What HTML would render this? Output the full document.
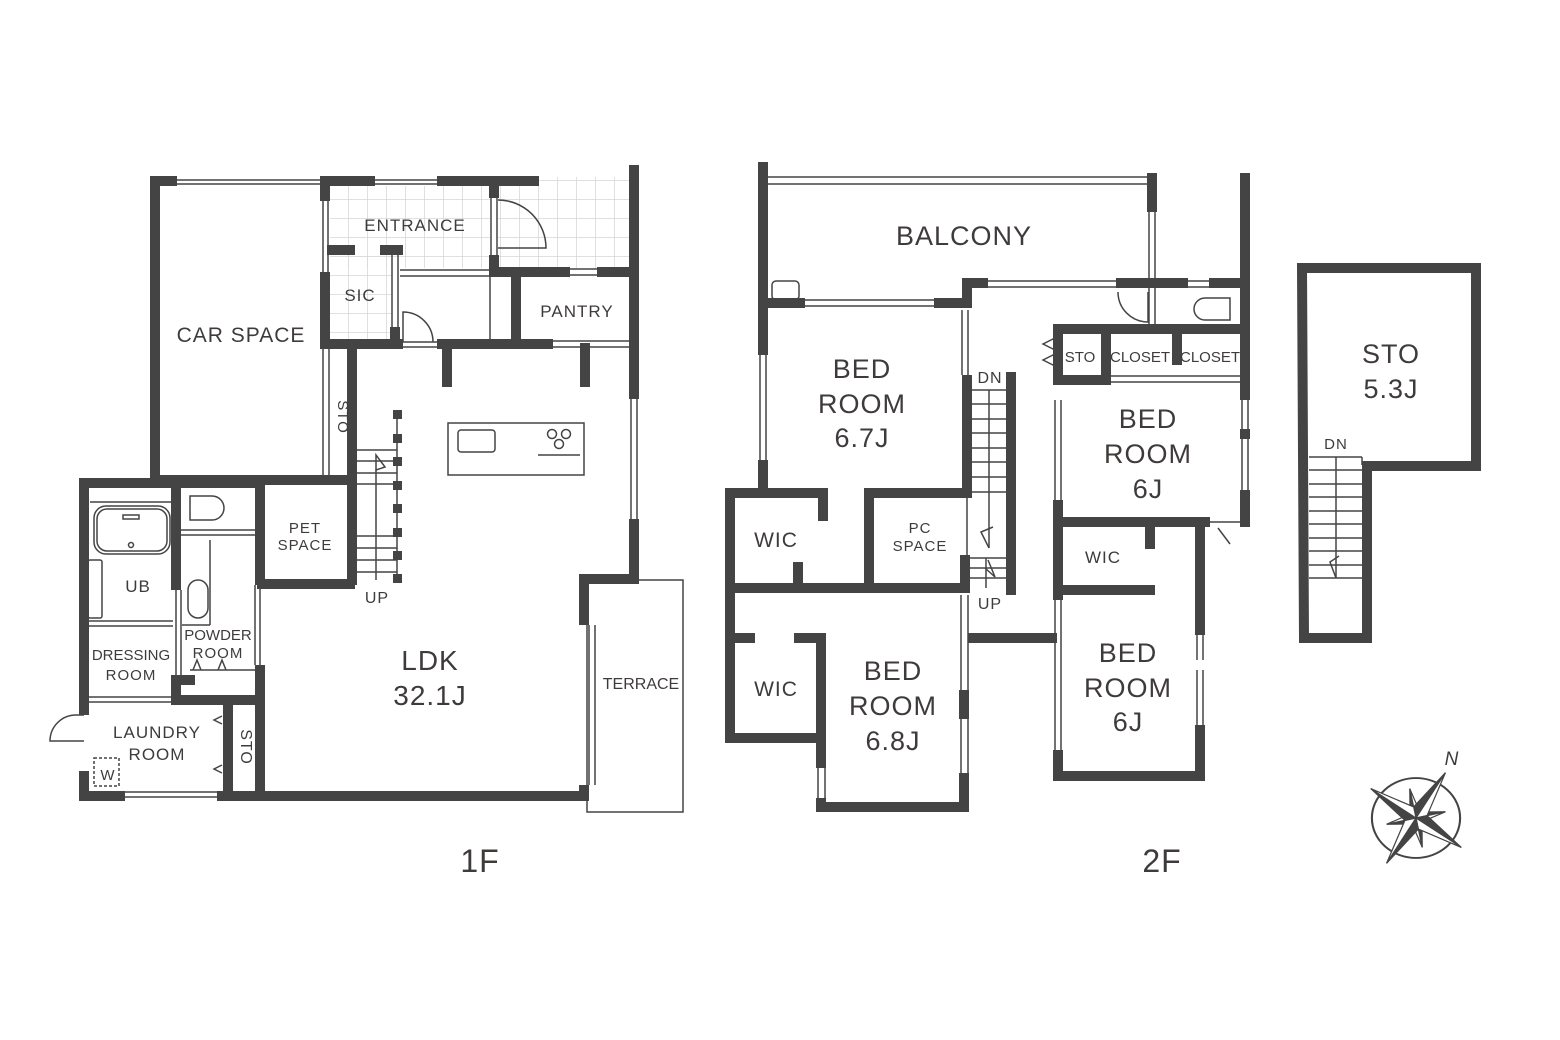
<!DOCTYPE html>
<html><head><meta charset="utf-8"><style>
html,body{margin:0;padding:0;background:#fff;}
svg{display:block;}
text{font-family:"Liberation Sans","DejaVu Sans",sans-serif;fill:#3f3b3b;text-anchor:middle;letter-spacing:1px;}
</style></head><body>
<svg width="1560" height="1040" viewBox="0 0 1560 1040" xmlns="http://www.w3.org/2000/svg">
<defs>
<pattern id="tile" width="19" height="19" patternUnits="userSpaceOnUse" x="330" y="181"><path d="M19 0V19H0" fill="none" stroke="#d6d6d6" stroke-width="1.5"/></pattern>
<g id="pt"><path d="M0 0 L0 -54 L-8 -8 Z" fill="#444"/><path d="M0 0 L0 -54 L8 -8 Z" fill="#fff"/></g>
<g id="pm"><path d="M0 0 L0 -30 L-5 -5 Z" fill="#444"/><path d="M0 0 L0 -30 L5 -5 Z" fill="#fff"/></g>
</defs>
<rect width="1560" height="1040" fill="#fff"/>
<rect x="330" y="186" width="160" height="82" fill="url(#tile)"/>
<rect x="330" y="255" width="62" height="85" fill="url(#tile)"/>
<rect x="498" y="177" width="132" height="91" fill="url(#tile)"/>

<g fill="none" stroke="#444" stroke-width="1.5">
<line x1="175" y1="180" x2="320" y2="180"/><line x1="175" y1="184" x2="320" y2="184"/>
<line x1="375" y1="180" x2="438" y2="180"/><line x1="375" y1="184" x2="438" y2="184"/>
<line x1="323" y1="200" x2="323" y2="277"/><line x1="328" y1="200" x2="328" y2="277"/>
<line x1="323" y1="348" x2="323" y2="478"/><line x1="329" y1="348" x2="329" y2="478"/>
<line x1="392" y1="255" x2="392" y2="330"/><line x1="398" y1="255" x2="398" y2="330"/>
<line x1="491" y1="198" x2="491" y2="255"/><line x1="497" y1="198" x2="497" y2="255"/>
<line x1="400" y1="270" x2="490" y2="270"/><line x1="400" y1="276" x2="490" y2="276"/>
<line x1="490" y1="276" x2="490" y2="340"/>
<line x1="570" y1="269" x2="597" y2="269"/><line x1="570" y1="275" x2="597" y2="275"/>
<line x1="550" y1="341" x2="630" y2="341"/><line x1="550" y1="347" x2="630" y2="347"/>
<line x1="400" y1="342" x2="438" y2="342"/><line x1="400" y1="347" x2="438" y2="347"/>
<path d="M498 200 A48 48 0 0 1 546 248 L498 248"/>
<path d="M403 342 V312 A30 30 0 0 1 433 342"/>
<line x1="631" y1="398" x2="631" y2="520"/><line x1="637" y1="398" x2="637" y2="520"/>
<line x1="589" y1="625" x2="589" y2="785"/><line x1="595" y1="625" x2="595" y2="785"/>
<rect x="587" y="580" width="96" height="232"/>
<rect x="448" y="423" width="136" height="52"/>
<rect x="458" y="430" width="37" height="22" rx="3"/>
<line x1="538" y1="455" x2="580" y2="455"/>
<circle cx="552" cy="434" r="4.5"/><circle cx="566" cy="434" r="4.5"/><circle cx="559" cy="444" r="4.5"/>
<line x1="357" y1="450" x2="397" y2="450"/><line x1="357" y1="461" x2="397" y2="461"/><line x1="357" y1="473" x2="397" y2="473"/><line x1="357" y1="484" x2="397" y2="484"/>
<line x1="357" y1="536" x2="397" y2="536"/><line x1="357" y1="548" x2="397" y2="548"/><line x1="357" y1="560" x2="397" y2="560"/><line x1="357" y1="572" x2="397" y2="572"/>
<line x1="397" y1="412" x2="397" y2="580"/><line x1="376" y1="470" x2="376" y2="580"/>
<path d="M376 470 L376 455 L385 467 Z"/>
<rect x="94" y="506" width="76" height="48" rx="12"/><rect x="97" y="509" width="70" height="42" rx="10"/>
<rect x="123" y="515" width="16" height="4"/><circle cx="131" cy="545" r="2.5"/>
<rect x="88" y="560" width="14" height="58" rx="2"/>
<line x1="90" y1="502" x2="173" y2="502"/>
<line x1="88" y1="621" x2="173" y2="621"/><line x1="88" y1="626" x2="173" y2="626"/>
<line x1="88" y1="697" x2="173" y2="697"/><line x1="88" y1="702" x2="173" y2="702"/>
<line x1="176" y1="590" x2="176" y2="675"/><line x1="181" y1="590" x2="181" y2="675"/>
<path d="M190 496 h22 a12 12 0 0 1 0 24 h-22 z"/>
<line x1="180" y1="530" x2="256" y2="530"/><line x1="180" y1="535" x2="256" y2="535"/>
<rect x="188" y="580" width="20" height="38" rx="10"/>
<line x1="210" y1="540" x2="210" y2="625"/><line x1="182" y1="625" x2="210" y2="625"/>
<line x1="255" y1="585" x2="255" y2="665"/><line x1="260" y1="585" x2="260" y2="665"/>
<line x1="190" y1="670" x2="255" y2="670"/>
<path d="M193 670 l4 -10 l4 10 M218 670 l4 -10 l4 10"/>
<line x1="226" y1="706" x2="226" y2="790"/>
<path d="M222 716 l-8 4 l8 4 M222 765 l-8 4 l8 4"/>
<rect x="94" y="758" width="25" height="28" stroke-dasharray="3 2"/>
<line x1="125" y1="792" x2="220" y2="792"/><line x1="125" y1="797" x2="220" y2="797"/>
<path d="M84 715 h-8 a26 26 0 0 0 -26 26 h34"/>
<line x1="767" y1="177" x2="1148" y2="177"/><line x1="767" y1="184" x2="1148" y2="184"/>
<line x1="1149" y1="210" x2="1149" y2="325"/><line x1="1155" y1="210" x2="1155" y2="325"/>
<line x1="805" y1="300" x2="935" y2="300"/><line x1="805" y1="306" x2="935" y2="306"/>
<line x1="985" y1="281" x2="1117" y2="281"/><line x1="985" y1="287" x2="1117" y2="287"/>
<line x1="1187" y1="281" x2="1210" y2="281"/><line x1="1187" y1="287" x2="1210" y2="287"/>
<rect x="772" y="281" width="27" height="19" rx="4"/>
<line x1="760" y1="355" x2="760" y2="460"/><line x1="766" y1="355" x2="766" y2="460"/>
<line x1="962" y1="310" x2="962" y2="375"/><line x1="968" y1="310" x2="968" y2="375"/>
<path d="M1118 292 A30 30 0 0 0 1148 322 V292"/>
<path d="M1205 298 h25 v22 h-25 a11 11 0 0 1 0 -22 z"/>
<line x1="1060" y1="333" x2="1060" y2="376"/>
<path d="M1055 338 l-12 6 l12 6 M1055 354 l-12 6 l12 6"/>
<line x1="1110" y1="376" x2="1240" y2="376"/><line x1="1110" y1="382" x2="1240" y2="382"/>
<line x1="1055" y1="400" x2="1055" y2="500"/><line x1="1061" y1="400" x2="1061" y2="500"/>
<line x1="1242" y1="400" x2="1242" y2="430"/><line x1="1248" y1="400" x2="1248" y2="430"/>
<line x1="1242" y1="438" x2="1242" y2="490"/><line x1="1248" y1="438" x2="1248" y2="490"/>
<path d="M1210 522 h35 M1218 528 l12 16"/>
<line x1="1055" y1="600" x2="1055" y2="755"/><line x1="1061" y1="600" x2="1061" y2="755"/>
<line x1="1197" y1="635" x2="1197" y2="660"/><line x1="1203" y1="635" x2="1203" y2="660"/>
<line x1="1197" y1="670" x2="1197" y2="725"/><line x1="1203" y1="670" x2="1203" y2="725"/>
<line x1="961" y1="595" x2="961" y2="690"/><line x1="968" y1="595" x2="968" y2="690"/>
<line x1="961" y1="718" x2="961" y2="775"/><line x1="968" y1="718" x2="968" y2="775"/>
<line x1="818" y1="767" x2="818" y2="800"/><line x1="825" y1="767" x2="825" y2="800"/>
<line x1="967" y1="495" x2="967" y2="558"/>
<line x1="970" y1="390" x2="1006" y2="390"/><line x1="970" y1="404" x2="1006" y2="404"/><line x1="970" y1="419" x2="1006" y2="419"/><line x1="970" y1="433" x2="1006" y2="433"/><line x1="970" y1="448" x2="1006" y2="448"/><line x1="970" y1="462" x2="1006" y2="462"/><line x1="970" y1="477" x2="1006" y2="477"/><line x1="970" y1="492" x2="1006" y2="492"/>
<line x1="970" y1="558" x2="1006" y2="558"/><line x1="970" y1="568" x2="1006" y2="568"/><line x1="970" y1="578" x2="1006" y2="578"/>
<line x1="989" y1="390" x2="989" y2="548"/><line x1="986" y1="558" x2="986" y2="588"/>
<path d="M989 548 L981 532 L993 527"/><path d="M985 568 L995 577 L988 560"/>
<line x1="1309" y1="457" x2="1362" y2="457"/><line x1="1362" y1="457" x2="1362" y2="465"/>
<line x1="1309" y1="470" x2="1362" y2="470"/><line x1="1309" y1="484" x2="1362" y2="484"/><line x1="1309" y1="497" x2="1362" y2="497"/><line x1="1309" y1="511" x2="1362" y2="511"/><line x1="1309" y1="524" x2="1362" y2="524"/><line x1="1309" y1="538" x2="1362" y2="538"/><line x1="1309" y1="551" x2="1362" y2="551"/><line x1="1309" y1="565" x2="1362" y2="565"/><line x1="1309" y1="578" x2="1362" y2="578"/>
<line x1="1336" y1="457" x2="1336" y2="578"/><path d="M1336 578 L1330 562 L1339 556"/>
</g>

<g stroke="#444" stroke-width="10" fill="none" stroke-linecap="square">
<path d="M155 480 V181 H172"/>
<path d="M325 181 H370 M442 181 H534"/>
<line x1="325" y1="181" x2="325" y2="196"/>
<line x1="325" y1="277" x2="325" y2="340"/>
<path d="M325 344 H398 M442 344 H548"/>
<line x1="332" y1="250" x2="350" y2="250"/><line x1="385" y1="250" x2="398" y2="250"/>
<line x1="395" y1="332" x2="395" y2="344"/>
<line x1="494" y1="181" x2="494" y2="193"/><line x1="494" y1="260" x2="494" y2="272"/>
<path d="M494 272 H565 M602 272 H630"/>
<line x1="516" y1="276" x2="516" y2="344"/>
<line x1="634" y1="170" x2="634" y2="394"/><path d="M634 524 V579 H584 V620"/>
<line x1="584" y1="790" x2="584" y2="796"/>
<line x1="447" y1="348" x2="447" y2="382"/><line x1="585" y1="348" x2="585" y2="382"/>
<line x1="352" y1="348" x2="352" y2="580"/>
<path d="M155 480 H348"/>
<path d="M84 483 V710 M84 776 V796 H120 M222 796 H584"/>
<line x1="84" y1="483" x2="258" y2="483"/>
<line x1="176" y1="483" x2="176" y2="585"/><line x1="176" y1="680" x2="176" y2="700"/>
<path d="M176 680 H190"/><path d="M176 700 H258"/>
<line x1="260" y1="483" x2="260" y2="580"/><line x1="260" y1="670" x2="260" y2="796"/>
<line x1="262" y1="584" x2="350" y2="584"/>
<line x1="228" y1="705" x2="228" y2="792"/>
<line x1="763" y1="167" x2="763" y2="350"/><line x1="763" y1="465" x2="763" y2="490"/>
<line x1="1152" y1="178" x2="1152" y2="207"/>
<path d="M767 303 H800 M939 303 H967 V283 H983 M1121 283 H1183 M1214 283 H1245"/>
<line x1="1245" y1="178" x2="1245" y2="395"/><line x1="1245" y1="434" x2="1245" y2="434"/><line x1="1245" y1="495" x2="1245" y2="522"/>
<line x1="967" y1="380" x2="967" y2="493"/>
<path d="M1058 329 H1245"/>
<line x1="1058" y1="333" x2="1058" y2="380"/>
<path d="M1058 380 H1106 V333"/>
<line x1="1177" y1="333" x2="1177" y2="360"/>
<line x1="1058" y1="505" x2="1058" y2="595"/>
<path d="M1058 522 H1205"/>
<line x1="1150" y1="526" x2="1150" y2="544"/>
<line x1="1062" y1="590" x2="1150" y2="590"/>
<line x1="1200" y1="526" x2="1200" y2="630"/><line x1="1200" y1="730" x2="1200" y2="776"/>
<line x1="1058" y1="755" x2="1058" y2="776"/><path d="M1058 776 H1200"/>
<path d="M763 493 H730 V738 H821"/><path d="M730 493 H823 V516"/>
<path d="M869 585 V493 H965"/>
<line x1="798" y1="567" x2="798" y2="585"/>
<path d="M734 588 H965"/>
<line x1="965" y1="560" x2="965" y2="588"/>
<line x1="1011" y1="377" x2="1011" y2="590"/>
<path d="M973 638 H1052"/>
<line x1="734" y1="638" x2="750" y2="638"/><path d="M799 638 H821 V763 M821 803 V807 H964 V778"/>
<line x1="964" y1="695" x2="964" y2="714"/>
<path d="M1302 268 H1476 V466 H1367 V638 H1304 Z"/>
</g>
<g fill="#444">
<rect x="393" y="410" width="9" height="9"/><rect x="393" y="434" width="9" height="9"/><rect x="393" y="457" width="9" height="9"/><rect x="393" y="481" width="9" height="9"/><rect x="393" y="504" width="9" height="9"/><rect x="393" y="528" width="9" height="9"/><rect x="393" y="551" width="9" height="9"/><rect x="393" y="574" width="9" height="9"/>
</g>

<g transform="translate(1416,818)">
<circle r="42" fill="none" stroke="#444" stroke-width="2" transform="scale(1.05,0.95)"/>
<g transform="rotate(33)" stroke="#444" stroke-width="1.2">
<use href="#pm" transform="rotate(45)"/><use href="#pm" transform="rotate(135)"/><use href="#pm" transform="rotate(225)"/><use href="#pm" transform="rotate(315)"/>
<use href="#pt"/><use href="#pt" transform="rotate(90)"/><use href="#pt" transform="rotate(180)"/><use href="#pt" transform="rotate(270)"/>
</g>
<text x="36" y="-53" font-size="19" font-style="italic">N</text>
</g>

<g font-size="21">
<text x="241" y="342">CAR SPACE</text>
<text x="415" y="231" font-size="17">ENTRANCE</text>
<text x="360" y="301" font-size="17">SIC</text>
<text x="577" y="317" font-size="17">PANTRY</text>
<text x="305" y="533" font-size="15">PET</text>
<text x="305" y="550" font-size="15">SPACE</text>
<text x="377" y="603" font-size="16">UP</text>
<text x="138" y="592" font-size="17">UB</text>
<text x="131" y="660" font-size="15" style="letter-spacing:0">DRESSING</text>
<text x="131" y="680" font-size="15">ROOM</text>
<text x="218" y="640" font-size="15" style="letter-spacing:0">POWDER</text>
<text x="218" y="658" font-size="15">ROOM</text>
<text x="157" y="738" font-size="17">LAUNDRY</text>
<text x="157" y="760" font-size="17">ROOM</text>
<text x="108" y="780" font-size="15">W</text>
<text x="241" y="747" font-size="16" transform="rotate(90 241 747)">STO</text>
<text x="338" y="417" font-size="15" transform="rotate(90 338 417)">STO</text>
<text x="430" y="670" font-size="28">LDK</text>
<text x="430" y="705" font-size="28">32.1J</text>
<text x="641" y="689" font-size="16" style="letter-spacing:0">TERRACE</text>
<text x="480" y="872" font-size="32">1F</text>
<text x="964" y="245" font-size="27">BALCONY</text>
<text x="862" y="378" font-size="27">BED</text>
<text x="862" y="413" font-size="27">ROOM</text>
<text x="862" y="447" font-size="27">6.7J</text>
<text x="776" y="547" font-size="21">WIC</text>
<text x="920" y="533" font-size="15">PC</text>
<text x="920" y="551" font-size="15">SPACE</text>
<text x="990" y="383" font-size="16">DN</text>
<text x="990" y="609" font-size="16">UP</text>
<text x="776" y="696" font-size="21">WIC</text>
<text x="893" y="680" font-size="27">BED</text>
<text x="893" y="715" font-size="27">ROOM</text>
<text x="893" y="750" font-size="27">6.8J</text>
<text x="1080" y="362" font-size="15" style="letter-spacing:0">STO</text>
<text x="1140" y="362" font-size="15" style="letter-spacing:0">CLOSET</text>
<text x="1210" y="362" font-size="15" style="letter-spacing:0">CLOSET</text>
<text x="1148" y="428" font-size="27">BED</text>
<text x="1148" y="463" font-size="27">ROOM</text>
<text x="1148" y="498" font-size="27">6J</text>
<text x="1103" y="563" font-size="17">WIC</text>
<text x="1128" y="662" font-size="27">BED</text>
<text x="1128" y="697" font-size="27">ROOM</text>
<text x="1128" y="731" font-size="27">6J</text>
<text x="1162" y="872" font-size="32">2F</text>
<text x="1391" y="363" font-size="27">STO</text>
<text x="1391" y="398" font-size="27">5.3J</text>
<text x="1336" y="449" font-size="15">DN</text>
</g>
</svg>
</body></html>
